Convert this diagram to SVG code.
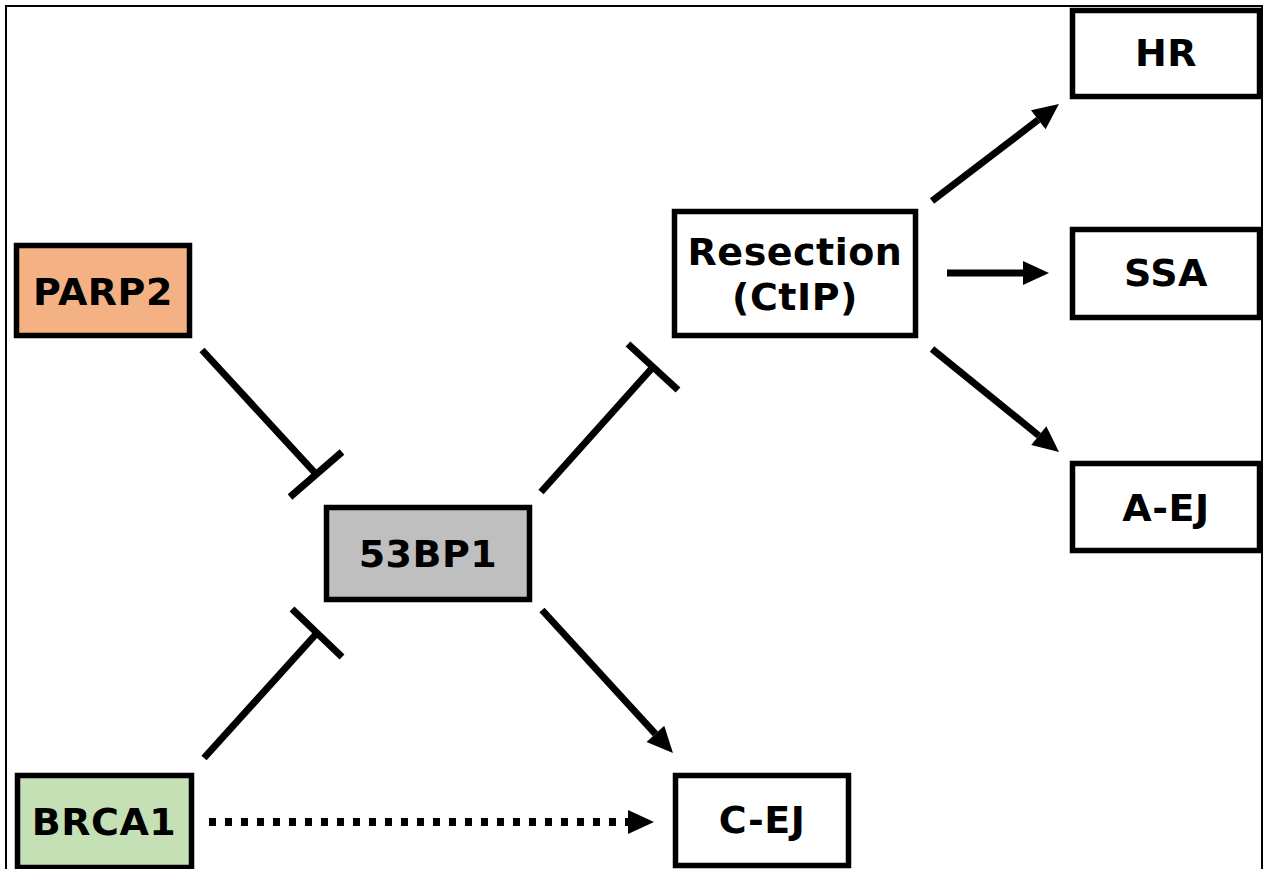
<svg xmlns="http://www.w3.org/2000/svg" width="1265" height="869" viewBox="0 0 1265 869">
<style>
.box{stroke:#000;stroke-width:5.5}
.lbl{font-family:"DejaVu Sans","Verdana","Liberation Sans",sans-serif;font-weight:bold;font-size:38px;letter-spacing:0.5px;fill:#000;text-anchor:middle}
.edge{stroke:#000;stroke-width:7;fill:none}
.dot{stroke:#000;stroke-width:8;fill:none;stroke-dasharray:7 9}
</style>
<defs>
<marker id="arr" markerUnits="userSpaceOnUse" markerWidth="26" markerHeight="24" refX="0" refY="12" orient="auto" overflow="visible">
<path d="M0,0 L26,12 L0,24 z" fill="#000"/>
</marker>
</defs>
<rect x="0" y="0" width="1265" height="869" fill="#fff"/>
<rect id="frame" x="6" y="6" width="1256" height="880" fill="none" stroke="#000" stroke-width="2"/>
<g id="connectors">
<line class="edge" x1="202" y1="350" x2="316" y2="474"/>
<line class="edge" x1="290" y1="497" x2="342" y2="452"/>
<line class="edge" x1="204" y1="758" x2="317" y2="633"/>
<line class="edge" x1="292" y1="609" x2="342" y2="657"/>
<line class="edge" x1="541" y1="492" x2="653" y2="367"/>
<line class="edge" x1="628" y1="344" x2="678" y2="390"/>
<line class="edge" x1="542" y1="610" x2="655.4" y2="733.8" marker-end="url(#arr)"/>
<line class="edge" x1="932" y1="201" x2="1038.3" y2="119.8" marker-end="url(#arr)"/>
<line class="edge" x1="947" y1="273" x2="1023" y2="273" marker-end="url(#arr)"/>
<line class="edge" x1="932" y1="349" x2="1038.8" y2="435.6" marker-end="url(#arr)"/>
<line class="dot" x1="209" y1="822" x2="628" y2="822" marker-end="url(#arr)"/>
</g>
<g id="PARP2"><rect class="box" x="16.5" y="245.5" width="173" height="90" fill="#F4B183"/><text class="lbl" x="103" y="305">PARP2</text></g>
<g id="n53BP1"><rect class="box" x="326.5" y="507.5" width="203" height="92" fill="#BFBFBF"/><text class="lbl" x="428" y="567">53BP1</text></g>
<g id="BRCA1"><rect class="box" x="17.5" y="775.5" width="174" height="92" fill="#C5E0B4"/><text class="lbl" x="104" y="835">BRCA1</text></g>
<g id="CEJ"><rect class="box" x="675.5" y="775.5" width="173" height="90" fill="#fff"/><text class="lbl" x="762" y="833">C-EJ</text></g>
<g id="Resection"><rect class="box" x="674.5" y="211.5" width="241" height="124" fill="#fff"/><text class="lbl" x="795" y="265">Resection</text><text class="lbl" x="795" y="310">(CtIP)</text></g>
<g id="HR"><rect class="box" x="1072.5" y="10.5" width="187" height="86" fill="#fff"/><text class="lbl" x="1166" y="66">HR</text></g>
<g id="SSA"><rect class="box" x="1072.5" y="229.5" width="187" height="88" fill="#fff"/><text class="lbl" x="1166" y="286">SSA</text></g>
<g id="AEJ"><rect class="box" x="1072.5" y="463.5" width="187" height="87" fill="#fff"/><text class="lbl" x="1166" y="521">A-EJ</text></g>
</svg>
